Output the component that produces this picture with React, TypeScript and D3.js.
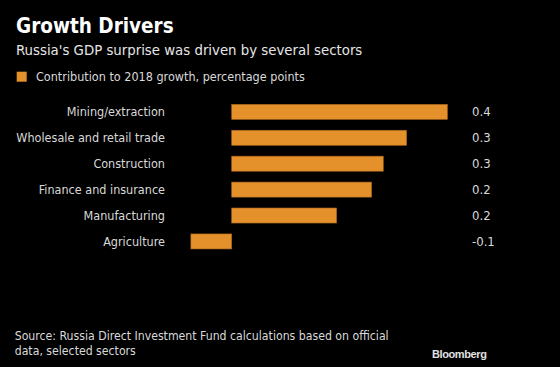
import React from "react";
import * as d3 from "d3";

const categories = [
  "Mining/extraction",
  "Wholesale and retail trade",
  "Construction",
  "Finance and insurance",
  "Manufacturing",
  "Agriculture",
];
const values = [0.37, 0.3, 0.26, 0.24, 0.18, -0.07];
const xDomain = [-0.1, 0.4];

const W = 560;
const H = 367;
const FONT = "'DejaVu Sans Condensed', 'DejaVu Sans', sans-serif";
const BAR = "#E4912C";

export default function App() {
  const x = d3.scaleLinear().domain(xDomain).range([173.4, 464.9]);
  const y = d3
    .scaleBand<string>()
    .domain(categories)
    .range([98.9, 254.4])
    .paddingInner(0.42)
    .paddingOuter(0.21);
  const fmt = (v: number) => d3.format(".1f")(v).replace("\u2212", "-");

  return (
    <svg
      width={W}
      height={H}
      style={{ position: "absolute", left: 0, top: 0, background: "#000" }}
      fontFamily={FONT}
    >
      <rect x={0} y={0} width={W} height={H} fill="#000" />
      <text x={16} y={33} fill="#fff" fontSize={20.5} fontWeight="bold">
        Growth Drivers
      </text>
      <text x={16} y={55} fill="#e6e6e6" fontSize={14.8}>
        Russia's GDP surprise was driven by several sectors
      </text>
      <rect x={16.7} y={71.7} width={10} height={10} fill={BAR} />
      <text x={36} y={80.5} fill="#d9d9d9" fontSize={12.5}>
        Contribution to 2018 growth, percentage points
      </text>

      {categories.map((c, i) => {
        const v = values[i];
        const y0 = y(c)!;
        const bw = y.bandwidth();
        return (
          <g key={c}>
            <rect
              x={Math.min(x(0), x(v))}
              y={y0}
              width={Math.abs(x(v) - x(0))}
              height={bw}
              fill={BAR}
              stroke="#a8651c"
              strokeWidth={0.6}
            />
            <text
              x={165}
              y={y0 + bw / 2}
              dy="0.35em"
              textAnchor="end"
              fill="#d9d9d9"
              fontSize={12.5}
            >
              {c}
            </text>
            <text
              x={472}
              y={y0 + bw / 2}
              dy="0.35em"
              fill="#d9d9d9"
              fontSize={13}
            >
              {fmt(v)}
            </text>
          </g>
        );
      })}

      <text x={14.7} y={339.5} fill="#d9d9d9" fontSize={12.2}>
        Source: Russia Direct Investment Fund calculations based on official
      </text>
      <text x={14.7} y={354.5} fill="#d9d9d9" fontSize={12.2}>
        data, selected sectors
      </text>
      <text
        x={432}
        y={358}
        fill="#e0e0e0"
        fontSize={11}
        fontWeight="bold"
        fontFamily="'Liberation Sans', Arial, sans-serif"
        letterSpacing={-0.4}
      >
        Bloomberg
      </text>
    </svg>
  );
}
